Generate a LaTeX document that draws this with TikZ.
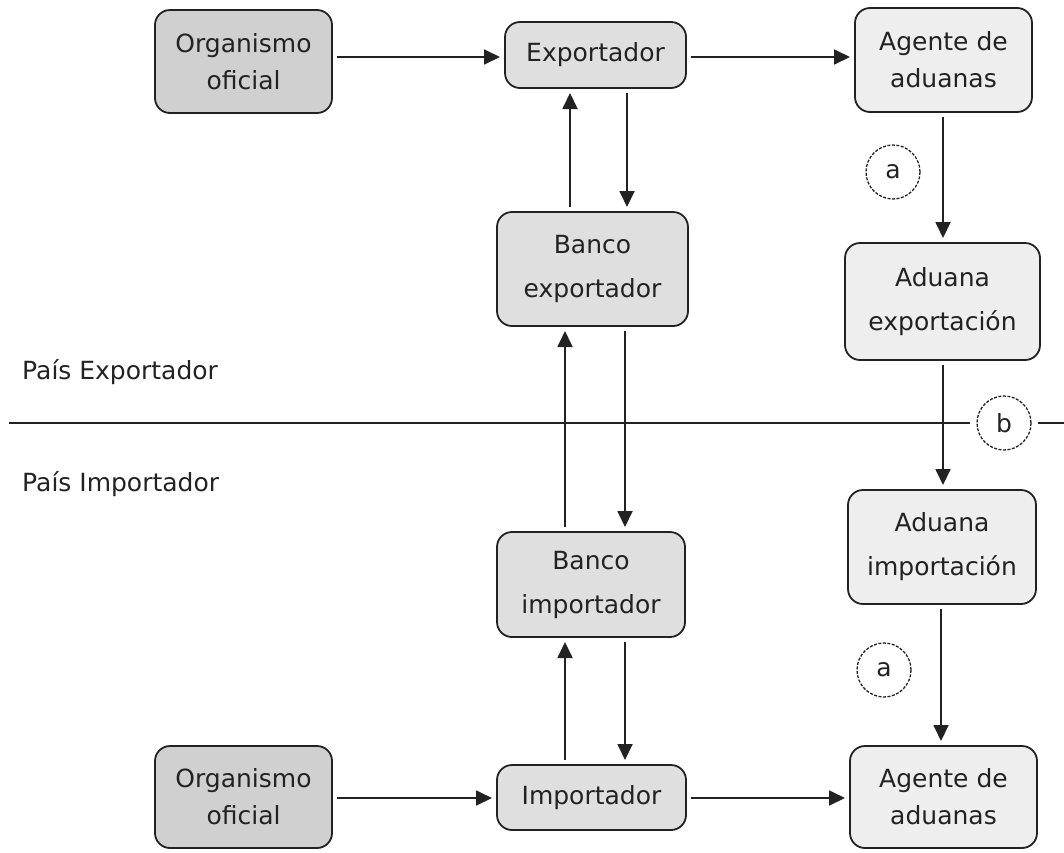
\documentclass[tikz,border=0pt]{standalone}
\usepackage{fontspec}
\setmainfont{DejaVu Sans}
\usetikzlibrary{arrows.meta}
\definecolor{gD}{HTML}{D0D0D0}
\definecolor{gM}{HTML}{DFDFDF}
\definecolor{gL}{HTML}{EEEEEE}
\definecolor{ink}{HTML}{222222}
\tikzset{
  box/.style={draw=ink, line width=1.8pt, rounded corners=15pt, align=center, outer sep=5pt, text=ink,
    font=\fontsize{25}{37}\selectfont},
  wide/.style={font=\fontsize{25}{44}\selectfont},
  arr/.style={draw=ink, line width=1.8pt, -{Triangle[length=16pt,width=15pt]}},
  sep/.style={draw=ink, line width=1.6pt},
  tag/.style={circle, draw=ink, line width=1.3pt, dash pattern=on 3pt off 1.5pt, minimum size=54pt, inner sep=0pt, text=ink,
    font=\fontsize{25}{30}\selectfont},
  lbl/.style={anchor=base west, text=ink, font=\fontsize{25}{30}\selectfont, inner sep=0pt}
}
\begin{document}
\begin{tikzpicture}[x=1pt,y=-1pt]
\useasboundingbox (0,0) rectangle (1064,852);
% boxes
\node[box, fill=gD, minimum width=177pt, minimum height=103pt] (org1) at (243.5,61.5) {Organismo\\oficial};
\node[box, fill=gM, minimum width=181pt, minimum height=66pt] (exp) at (595.5,55) {Exportador};
\node[box, fill=gL, minimum width=177pt, minimum height=104pt] (ag1) at (943.5,60) {Agente de\\aduanas};
\node[box, wide, fill=gM, minimum width=191pt, minimum height=114pt] (bexp) at (592.5,269) {Banco\\exportador};
\node[box, wide, fill=gL, minimum width=195pt, minimum height=117pt] (adexp) at (942.5,301.5) {Aduana\\exportación};
\node[box, wide, fill=gL, minimum width=188pt, minimum height=114pt] (adimp) at (942,547) {Aduana\\importación};
\node[box, wide, fill=gM, minimum width=188pt, minimum height=105pt] (bimp) at (591,584.5) {Banco\\importador};
\node[box, fill=gD, minimum width=177pt, minimum height=102pt] (org2) at (243.5,797) {Organismo\\oficial};
\node[box, fill=gM, minimum width=189pt, minimum height=65pt] (imp) at (591.5,797.5) {Importador};
\node[box, fill=gL, minimum width=187pt, minimum height=102pt] (ag2) at (943.5,797) {Agente de\\aduanas};
% tags
\node[tag] (ta1) at (893,172) {a};
\node[tag] (tb) at (1004,423) {b};
\node[tag] (ta2) at (884,670) {a};
% labels
\node[lbl] (pe) at (22,379) {País Exportador};
\node[lbl] (pi) at (22,491) {País Importador};
% x positions
\coordinate (x1) at (570,0);
\coordinate (x2) at (627,0);
\coordinate (x3) at (565,0);
\coordinate (x4) at (625,0);
\coordinate (x5) at (943,0);
\coordinate (x6) at (941,0);
\coordinate (y1) at (0,57);
\coordinate (y2) at (0,798);
\coordinate (lstart) at (9,423);
\coordinate (lend) at (1064,423);
% connectors
\draw[arr] (org1.east |- y1) -- (exp.west |- y1);
\draw[arr] (exp.east |- y1) -- (ag1.west |- y1);
\draw[arr] (bexp.north -| x1) -- (exp.south -| x1);
\draw[arr] (exp.south -| x2) -- (bexp.north -| x2);
\draw[arr] (ag1.south -| x5) -- (adexp.north -| x5);
\draw[arr] (adexp.south -| x5) -- (adimp.north -| x5);
\draw[arr] (bimp.north -| x3) -- (bexp.south -| x3);
\draw[arr] (bexp.south -| x4) -- (bimp.north -| x4);
\draw[arr] (adimp.south -| x6) -- (ag2.north -| x6);
\draw[arr] (imp.north -| x3) -- (bimp.south -| x3);
\draw[arr] (bimp.south -| x4) -- (imp.north -| x4);
\draw[arr] (org2.east |- y2) -- (imp.west |- y2);
\draw[arr] (imp.east |- y2) -- (ag2.west |- y2);
\draw[sep] (lstart) -- ([xshift=-6pt]tb.west);
\draw[sep] ([xshift=6pt]tb.east) -- (lend);
\end{tikzpicture}
\end{document}
